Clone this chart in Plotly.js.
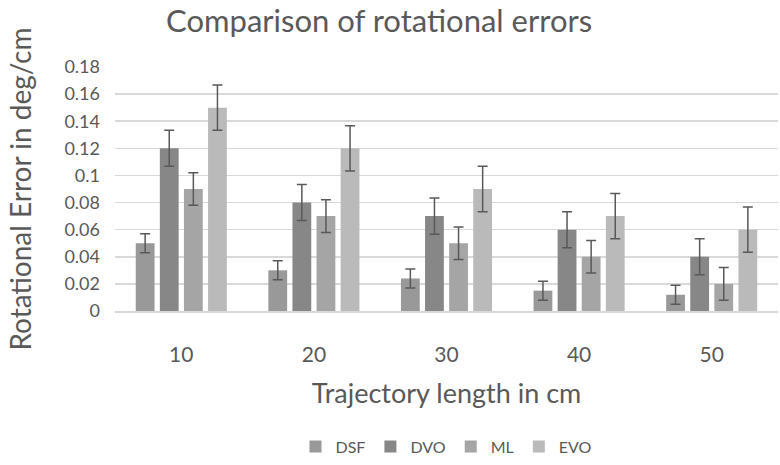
<!DOCTYPE html>
<html>
<head>
<meta charset="utf-8">
<script src="https://cdn.plot.ly/plotly-3.0.1.min.js"></script>
<style>html,body{margin:0;padding:0;background:#fff;}#chart{width:780px;height:465px;}</style>
</head>
<body>
<div id="chart"></div>
<script>
const categories = ['10', '20', '30', '40', '50'];
const seriesNames = ['DSF', 'DVO', 'ML', 'EVO'];
const dsf = [0.05, 0.03, 0.024, 0.015, 0.012];
const dvo = [0.12, 0.08, 0.07, 0.06, 0.04];
const ml  = [0.09, 0.07, 0.05, 0.04, 0.02];
const evo = [0.15, 0.12, 0.09, 0.07, 0.06];
const dsfErr = [0.007, 0.007, 0.007, 0.007, 0.007];
const dvoErr = [0.0133, 0.0133, 0.0133, 0.0133, 0.0133];
const mlErr  = [0.012, 0.012, 0.012, 0.012, 0.012];
const evoErr = [0.0167, 0.0167, 0.0167, 0.0167, 0.0167];
const yTicks = [0, 0.02, 0.04, 0.06, 0.08, 0.1, 0.12, 0.14, 0.16, 0.18];
const yTickLabels = ['0', '0.02', '0.04', '0.06', '0.08', '0.1', '0.12', '0.14', '0.16', '0.18'];

const colors = ['#999999', '#878787', '#a5a5a5', '#bababa'];
const values = [dsf, dvo, ml, evo];
const errs = [dsfErr, dvoErr, mlErr, evoErr];
const FONT = 'Lato, "Open Sans", sans-serif';

const data = seriesNames.map((n, i) => ({
  type: 'bar',
  name: n,
  x: categories,
  y: values[i],
  marker: {color: colors[i]},
  error_y: {type: 'data', array: errs[i], visible: true, color: '#595959', thickness: 1.5, width: 5}
}));

const layout = {
  width: 780, height: 465,
  margin: {l: 115, r: 2, t: 67, b: 150},
  paper_bgcolor: '#ffffff', plot_bgcolor: '#ffffff',
  font: {family: FONT, color: '#595959'},
  title: {text: 'Comparison of rotational errors', font: {size: 31, color: '#595959', family: FONT}, x: 0.486, xanchor: 'center', y: 0.955, yanchor: 'middle'},
  barmode: 'group',
  bargap: 0.273,
  bargroupgap: 0.22,
  showlegend: true,
  legend: {orientation: 'h', x: 0.5, xanchor: 'center', y: -0.556, yanchor: 'middle', font: {size: 16, color: '#595959'}, itemwidth: 30, traceorder: 'normal'},
  xaxis: {
    type: 'category',
    showgrid: false, zeroline: false,
    showline: true, linecolor: '#d9d9d9', linewidth: 1.5,
    ticks: '', tickfont: {size: 21, color: '#595959'},
    ticklabelstandoff: 24,
    title: {text: 'Trajectory length in cm', font: {size: 27, color: '#595959'}, standoff: 19}
  },
  yaxis: {
    range: [0, 0.18], fixedrange: true,
    tickmode: 'array', tickvals: yTicks, ticktext: yTickLabels,
    showgrid: true, gridcolor: '#d9d9d9', gridwidth: 1.5,
    zeroline: false, showline: false,
    ticks: '', tickfont: {size: 18, color: '#595959'},
    ticklabelstandoff: 14,
    title: {text: 'Rotational Error in deg/cm', font: {size: 28, color: '#595959'}, standoff: 24}
  }
};

Plotly.newPlot('chart', data, layout, {displayModeBar: false, staticPlot: true});
</script>
</body>
</html>
